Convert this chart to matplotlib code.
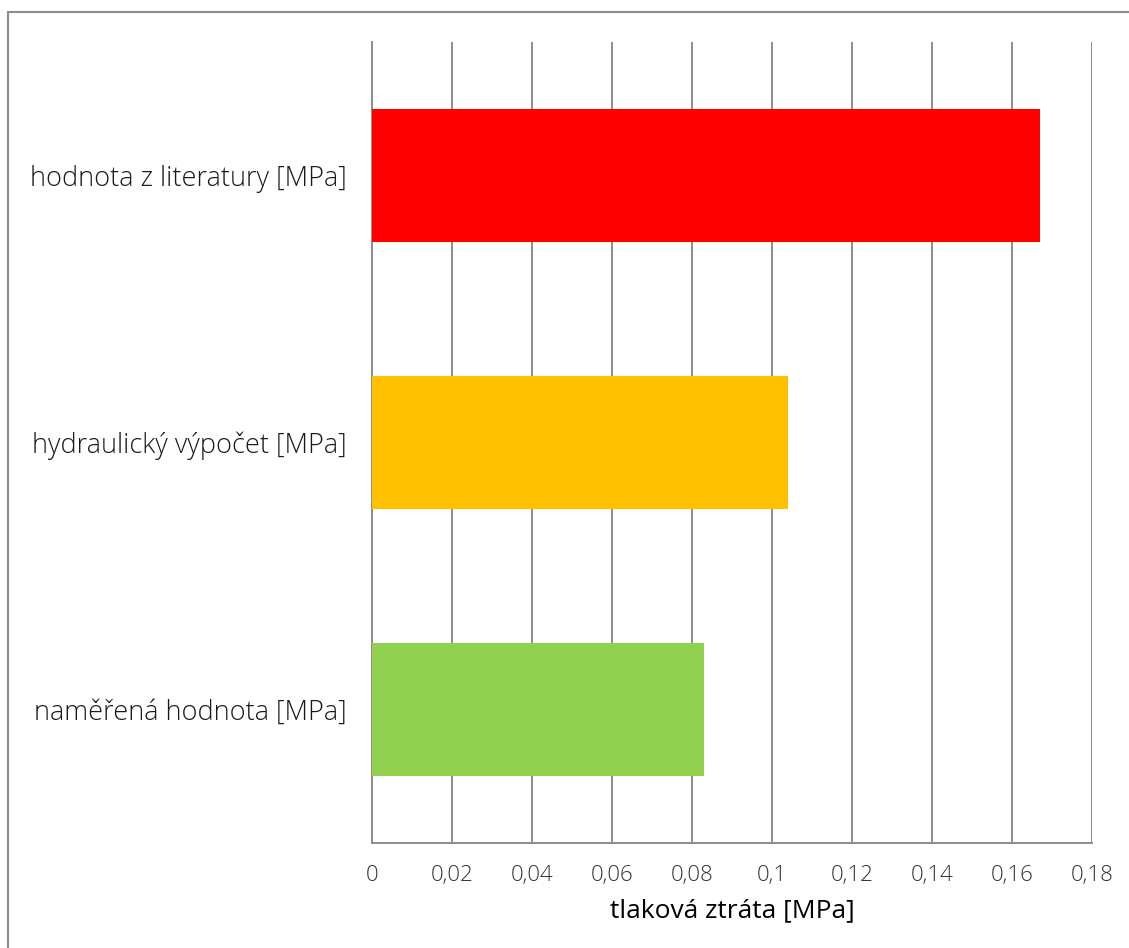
import matplotlib.pyplot as plt
from matplotlib.patches import Rectangle

kategorie = ["naměřená hodnota [MPa]", "hydraulický výpočet [MPa]", "hodnota z literatury [MPa]"]
hodnoty = [0.083, 0.104, 0.167]
barvy = ["#92d050", "#ffc000", "#ff0000"]
ticky = [0, 0.02, 0.04, 0.06, 0.08, 0.1, 0.12, 0.14, 0.16, 0.18]
popisky = ["0", "0,02", "0,04", "0,06", "0,08", "0,1", "0,12", "0,14", "0,16", "0,18"]

plt.rcParams["font.family"] = ["Open Sans", "DejaVu Sans"]

W, H = 1129, 948
fig = plt.figure(figsize=(W / 100, H / 100), dpi=100)
ax = fig.add_axes([372 / W, 1 - 843 / H, 720 / W, 801 / H])

ax.barh(range(len(kategorie)), hodnoty, height=0.5, color=barvy, zorder=3)

ax.set_xlim(0, 0.18)
ax.set_ylim(-0.5, 2.5)
ax.set_xticks(ticky)
ax.set_xticklabels(popisky, fontsize=16, color="#333333", fontweight="light")
ax.set_yticks(range(len(kategorie)))
ax.set_yticklabels(kategorie, fontsize=19.5, color="#1a1a1a", fontweight="light")
ax.tick_params(length=0)
ax.tick_params(axis="y", pad=18)
ax.tick_params(axis="x", pad=16)

ax.grid(axis="x", color="#8c8c8c", linewidth=1.4, zorder=0)
for s in ["top", "right"]:
    ax.spines[s].set_visible(False)
for s in ["left", "bottom"]:
    ax.spines[s].set_color("#8c8c8c")
    ax.spines[s].set_linewidth(1.4)

ax.set_xlabel("tlaková ztráta [MPa]", fontsize=19, color="black", labelpad=9)

# rámeček kolem grafu
fig.patches.append(Rectangle((8 / W, -0.05), 1.1, 1 - 12 / H + 0.05,
                             transform=fig.transFigure, fill=False,
                             edgecolor="#8c8c8c", linewidth=1.5))

fig.savefig("out.png", dpi=100)
